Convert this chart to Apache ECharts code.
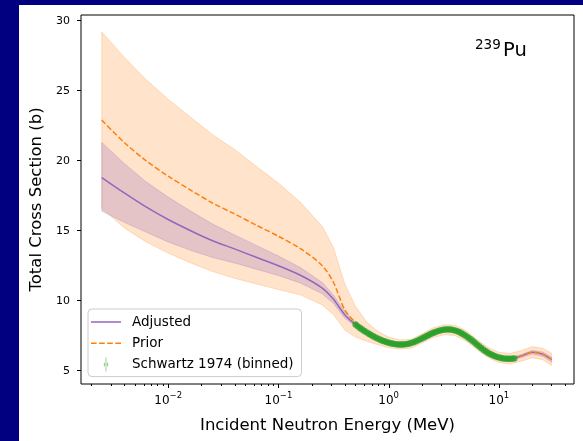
<!DOCTYPE html>
<html><head><meta charset="utf-8">
<script src="https://cdn.jsdelivr.net/npm/echarts@6/dist/echarts.min.js"></script>
<style>
html,body{margin:0;padding:0;background:#000080;width:583px;height:441px;overflow:hidden}
#c{position:absolute;left:19px;top:5px;width:564px;height:436px;background:#fff}
</style></head><body><div id="c"></div>
<script>
// Energy grid (MeV) for evaluated curves
const energy = [0.0025, 0.004, 0.0063, 0.01, 0.016, 0.025, 0.04, 0.063, 0.1, 0.16, 0.25, 0.316, 0.4, 0.5, 0.63, 0.8, 1.0, 1.26, 1.6, 2.0, 2.5, 3.2, 4.0, 5.0, 6.3, 8.0, 10, 12.6, 16, 20, 25, 30];
const adjusted = [18.8, 17.7, 16.7, 15.8, 15.0, 14.3, 13.7, 13.1, 12.5, 11.8, 10.9, 10.1, 9.0, 8.3, 7.75, 7.3, 7.0, 6.87, 6.93, 7.3, 7.7, 7.93, 7.88, 7.5, 6.88, 6.29, 5.95, 5.85, 6.05, 6.32, 6.18, 5.8];
const adjustedUpper = [21.3, 19.8, 18.5, 17.4, 16.4, 15.5, 14.7, 13.95, 13.2, 12.35, 11.3, 10.4, 9.25, 8.42, 7.84, 7.38, 7.08, 6.95, 7.0, 7.37, 7.77, 8.0, 7.95, 7.57, 6.96, 6.37, 6.03, 5.94, 6.16, 6.45, 6.33, 5.97];
const adjustedLower = [16.4, 15.6, 14.9, 14.2, 13.6, 13.1, 12.7, 12.25, 11.8, 11.25, 10.5, 9.8, 8.75, 8.18, 7.66, 7.22, 6.92, 6.79, 6.86, 7.23, 7.63, 7.86, 7.81, 7.43, 6.8, 6.21, 5.87, 5.76, 5.94, 6.19, 6.03, 5.63];
const prior = [22.9, 21.3, 20.0, 18.9, 17.9, 17.0, 16.2, 15.4, 14.6, 13.7, 12.5, 11.3, 9.35, 8.45, 7.82, 7.33, 7.02, 6.88, 6.93, 7.3, 7.7, 7.93, 7.88, 7.5, 6.88, 6.29, 5.95, 5.85, 6.05, 6.32, 6.18, 5.8];
const priorUpper = [29.2, 27.4, 25.8, 24.4, 23.1, 21.9, 20.8, 19.6, 18.4, 17.0, 15.3, 13.8, 11.2, 9.6, 8.5, 7.8, 7.4, 7.2, 7.25, 7.63, 8.05, 8.29, 8.25, 7.87, 7.25, 6.66, 6.32, 6.23, 6.44, 6.72, 6.6, 6.25];
const priorLower = [16.6, 15.2, 14.2, 13.4, 12.7, 12.1, 11.6, 11.2, 10.8, 10.4, 9.7, 9.0, 7.9, 7.4, 7.1, 6.85, 6.64, 6.55, 6.6, 6.97, 7.35, 7.57, 7.51, 7.13, 6.51, 5.92, 5.58, 5.47, 5.68, 5.92, 5.78, 5.38];

// Schwartz 1974 (binned) measurements
const expEnergy = [0.501, 0.525, 0.550, 0.575, 0.603, 0.631, 0.661, 0.692, 0.724, 0.759, 0.794, 0.832, 0.871, 0.912, 0.955, 1.0, 1.047, 1.096, 1.148, 1.202, 1.259, 1.318, 1.380, 1.445, 1.514, 1.585, 1.660, 1.738, 1.820, 1.905, 1.995, 2.089, 2.188, 2.291, 2.399, 2.512, 2.630, 2.754, 2.884, 3.020, 3.162, 3.311, 3.467, 3.631, 3.802, 3.981, 4.169, 4.365, 4.571, 4.786, 5.012, 5.248, 5.495, 5.754, 6.026, 6.310, 6.607, 6.918, 7.244, 7.586, 7.943, 8.318, 8.710, 9.120, 9.550, 10.0, 10.47, 10.96, 11.48, 12.02, 12.59, 13.18, 13.80];
const expValue = [8.30, 8.17, 8.05, 7.94, 7.84, 7.74, 7.64, 7.55, 7.46, 7.38, 7.30, 7.23, 7.16, 7.10, 7.05, 7.00, 6.96, 6.93, 6.90, 6.88, 6.87, 6.87, 6.88, 6.90, 6.93, 6.97, 7.02, 7.08, 7.15, 7.22, 7.30, 7.38, 7.46, 7.54, 7.62, 7.69, 7.75, 7.81, 7.86, 7.90, 7.93, 7.95, 7.95, 7.94, 7.92, 7.88, 7.83, 7.76, 7.68, 7.59, 7.49, 7.38, 7.26, 7.14, 7.01, 6.88, 6.75, 6.62, 6.50, 6.39, 6.29, 6.20, 6.12, 6.05, 5.99, 5.95, 5.91, 5.88, 5.86, 5.85, 5.85, 5.86, 5.88];
const expError = [0.12, 0.11, 0.12, 0.10, 0.11, 0.10, 0.12, 0.10, 0.11, 0.10, 0.10, 0.11, 0.10, 0.12, 0.10, 0.11, 0.10, 0.10, 0.12, 0.10, 0.11, 0.10, 0.10, 0.12, 0.10, 0.11, 0.10, 0.12, 0.10, 0.11, 0.10, 0.10, 0.12, 0.10, 0.11, 0.10, 0.12, 0.10, 0.11, 0.10, 0.12, 0.11, 0.10, 0.12, 0.10, 0.11, 0.12, 0.10, 0.12, 0.11, 0.10, 0.12, 0.10, 0.11, 0.10, 0.12, 0.11, 0.10, 0.12, 0.10, 0.11, 0.12, 0.10, 0.11, 0.12, 0.10, 0.11, 0.12, 0.10, 0.12, 0.11, 0.10, 0.12];

// Axis ticks
const yTicks = [5, 10, 15, 20, 25, 30];
const xMajorTicks = [0.01, 0.1, 1, 10];
const xMinorTicks = [0.002, 0.003, 0.004, 0.005, 0.006, 0.007, 0.008, 0.009, 0.02, 0.03, 0.04, 0.05, 0.06, 0.07, 0.08, 0.09, 0.2, 0.3, 0.4, 0.5, 0.6, 0.7, 0.8, 0.9, 2, 3, 4, 5, 6, 7, 8, 9, 20, 30, 40];

const X_MIN = 0.00162, X_MAX = 48, Y_MIN = 4.05, Y_MAX = 30.41;
const FONT = 'DejaVu Sans';

const chart = echarts.init(document.getElementById('c'), null, {renderer: 'canvas'});

function bandSeries(name, upper, lower, color) {
  return {
    type: 'custom', name: name, silent: true, clip: true,
    data: [[energy[0], upper[0]]],
    renderItem: function (params, api) {
      const pts = [];
      for (let i = 0; i < energy.length; i++) pts.push(api.coord([energy[i], upper[i]]));
      for (let i = energy.length - 1; i >= 0; i--) pts.push(api.coord([energy[i], lower[i]]));
      return {type: 'polygon', shape: {points: pts}, style: {fill: color, stroke: color, lineWidth: 1}};
    }
  };
}

function tickSeries(values, len) {
  return {
    type: 'custom', silent: true, clip: false, z: 10,
    data: values.map(v => [v, Y_MIN]),
    renderItem: function (params, api) {
      const p = api.coord([api.value(0), api.value(1)]);
      const x = Math.round(p[0]) + 0.5;
      const y = Math.round(p[1]);
      return {type: 'line', shape: {x1: x, y1: y, x2: x, y2: y + len}, style: {stroke: '#000', lineWidth: 1}};
    }
  };
}

const option = {
  animation: false,
  backgroundColor: '#fff',
  grid: {left: 62, right: 9, top: 10, bottom: 57, show: true, borderColor: '#000', borderWidth: 1, backgroundColor: 'transparent'},
  xAxis: {
    type: 'log', logBase: 10, min: X_MIN, max: X_MAX,
    name: 'Incident Neutron Energy (MeV)', nameLocation: 'middle', nameGap: 33,
    nameTextStyle: {fontSize: 16.5, color: '#000', fontFamily: FONT},
    axisLine: {show: false}, axisTick: {show: false}, splitLine: {show: false}, minorSplitLine: {show: false},
    axisLabel: {
      showMinLabel: false, showMaxLabel: false, margin: 7, color: '#000', fontFamily: FONT,
      formatter: function (v) {
        const l = Math.log10(v); const e = Math.round(l);
        if (Math.abs(l - e) > 1e-6) return '';
        return '{b|10}{s|' + String(e).replace('-', '\u2212') + '}';
      },
      rich: {
        b: {fontSize: 12, fontFamily: FONT, color: '#000', verticalAlign: 'bottom', lineHeight: 16},
        s: {fontSize: 8.5, fontFamily: FONT, color: '#000', verticalAlign: 'top', lineHeight: 16}
      }
    }
  },
  yAxis: {
    type: 'value', min: Y_MIN, max: Y_MAX,
    name: 'Total Cross Section (b)', nameLocation: 'middle', nameGap: 35, nameRotate: 90,
    nameTextStyle: {fontSize: 16.5, color: '#000', fontFamily: FONT},
    axisLine: {show: false}, splitLine: {show: false},
    axisTick: {show: true, length: 4, customValues: yTicks, lineStyle: {color: '#000'}},
    axisLabel: {customValues: yTicks, margin: 11, fontSize: 11, color: '#000', fontFamily: FONT}
  },
  legend: {
    orient: 'vertical', left: 69, top: 304,
    data: [
      {name: 'Adjusted', icon: 'path://M0,6.25h30v1.5h-30z', itemStyle: {color: '#9467bd'}},
      {name: 'Prior', icon: 'path://M0,6.25h5.6v1.5h-5.6z M8.1,6.25h5.6v1.5h-5.6z M16.2,6.25h5.6v1.5h-5.6z M24.3,6.25h5.7v1.5h-5.7z', itemStyle: {color: '#ff7f0e'}},
      {name: 'Schwartz 1974 (binned)', icon: 'path://M3.55,0h0.9v14h-0.9z M4,4.6a2.4,2.4 0 1 0 0.001,0z', itemStyle: {color: 'rgba(44,160,44,0.5)'}}
    ],
    itemWidth: 30, itemHeight: 14, itemGap: 7.3,
    padding: [6, 8, 5, 3],
    backgroundColor: 'rgba(255,255,255,0.8)', borderColor: '#cccccc', borderWidth: 1, borderRadius: 4,
    textStyle: {fontSize: 13.5, color: '#000', fontFamily: FONT, padding: [0, 0, 0, 6]},
    selectedMode: false
  },
  graphic: [
    {type: 'text', left: 456, top: 33, style: {text: '239', fontSize: 13.5, fontFamily: FONT, fill: '#000'}},
    {type: 'text', left: 484, top: 36, style: {text: 'Pu', fontSize: 19.5, fontFamily: FONT, fill: '#000'}}
  ],
  series: [
    bandSeries('priorBand', priorUpper, priorLower, 'rgba(255,127,14,0.22)'),
    bandSeries('adjBand', adjustedUpper, adjustedLower, 'rgba(148,103,189,0.25)'),
    {
      type: 'line', name: 'Adjusted', symbol: 'none', smooth: 0.3,
      data: energy.map((e, i) => [e, adjusted[i]]),
      lineStyle: {color: '#9467bd', width: 1.5}, itemStyle: {color: '#9467bd'}, z: 3
    },
    {
      type: 'line', name: 'Prior', symbol: 'none', smooth: 0.3,
      data: energy.map((e, i) => [e, prior[i]]),
      lineStyle: {color: '#ff7f0e', width: 1.5, type: [5.5, 2.4]}, itemStyle: {color: '#ff7f0e'}, z: 4
    },
    {
      type: 'custom', name: 'Schwartz 1974 (binned)', silent: true, z: 5,
      data: expEnergy.map((e, i) => [e, expValue[i], expError[i]]),
      renderItem: function (params, api) {
        const e = api.value(0), v = api.value(1), er = api.value(2);
        const p = api.coord([e, v]);
        const a = api.coord([e, v - er]);
        const b = api.coord([e, v + er]);
        return {type: 'group', children: [
          {type: 'line', shape: {x1: a[0], y1: a[1], x2: b[0], y2: b[1]}, style: {stroke: 'rgba(44,160,44,0.75)', lineWidth: 1.5}},
          {type: 'circle', shape: {cx: p[0], cy: p[1], r: 3.2}, style: {fill: 'rgba(44,160,44,0.8)'}}
        ]};
      },
      itemStyle: {color: 'rgba(44,160,44,0.5)'}
    },
    tickSeries(xMajorTicks, 4),
    tickSeries(xMinorTicks, 2)
  ]
};
chart.setOption(option);
</script></body></html>
